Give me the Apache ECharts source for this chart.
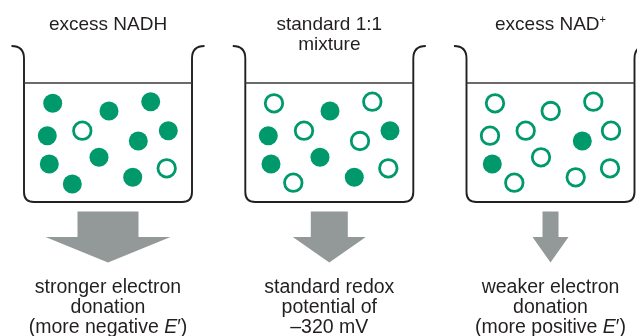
<!DOCTYPE html>
<html><head><meta charset="utf-8">
<script src="https://cdn.jsdelivr.net/npm/echarts@6/dist/echarts.min.js"></script>
<style>html,body{margin:0;padding:0;background:#fff}#c{width:637px;height:336px}</style>
</head><body><div id="c"></div>
<script>
// ---- data ----
const beakerTitles = ['excess NADH', 'standard 1:1\nmixture', 'excess NAD{sup|+}'];
const outcomeLabels = [
  'stronger electron\ndonation\n(more negative {i|E}′)',
  'standard redox\npotential of\n–320 mV',
  'weaker electron\ndonation\n(more positive {i|E}′)'
];
// relative donation strength -> arrow shaft / head widths (axis units)
const donationShaft = [61, 37, 16];
const donationHead = [125, 73, 36];
// NADH molecules (filled) [x, y]
const nadhPoints = [
  [52.7,103.3],[109,111],[150.7,101.7],[47.3,135.7],[138.3,141],[168.3,130.7],[49.3,164],[99,157.3],[72.3,184],[132.7,177.3],
  [330,111],[268.3,135.7],[390,130.7],[271,164],[320,157.3],[354.3,177.3],
  [582.3,141],[492.3,164]
];
// NAD+ molecules (open) [x, y]
const nadPoints = [
  [82.3,130.7],[166.7,168.3],
  [274,103.3],[372.3,101.7],[304,130.7],[360,141],[293.3,182.7],[388.3,168.3],
  [495,103.3],[550.7,111],[593.3,101.7],[490,135.7],[525.7,130.7],[611,130.7],[541,157.3],[514.3,182.7],[575.7,177.3],[610,168.3]
];

// ---- layout ----
const beakerCenters = [108, 329.3, 550.5];
const beakerHalf = 84;
const GREEN = '#00996b', INK = '#231f20', GREY = '#939998';
const FONT = 'Liberation Sans, Arial, sans-serif';

const chart = echarts.init(document.getElementById('c'));
const idx = beakerCenters.map((c, i) => [c, 0, i]);

chart.setOption({
  animation: false,
  grid: {left: 0, right: 0, top: 0, bottom: 0},
  xAxis: {type: 'value', min: 0, max: 637, show: false},
  yAxis: {type: 'value', min: 0, max: 336, inverse: true, show: false},
  series: [
    { // beakers
      type: 'custom', data: idx, z: 1,
      renderItem: function (params, api) {
        const cx = api.value(0);
        const xl = cx - beakerHalf, xr = cx + beakerHalf;
        const P = (x, y) => api.coord([x, y]);
        const a = P(xl - 12.5, 46), b = P(xl, 46), c = P(xl, 58.5), d = P(xl, 192), e = P(xl, 202), f = P(xl + 10, 202);
        const g = P(xr - 10, 202), h = P(xr, 202), k = P(xr, 192), m = P(xr, 58.5), n = P(xr, 46), o = P(xr + 12.5, 46);
        const path = `M${a[0]} ${a[1]} Q${b[0]} ${b[1]} ${c[0]} ${c[1]} L${d[0]} ${d[1]} Q${e[0]} ${e[1]} ${f[0]} ${f[1]} L${g[0]} ${g[1]} Q${h[0]} ${h[1]} ${k[0]} ${k[1]} L${m[0]} ${m[1]} Q${n[0]} ${n[1]} ${o[0]} ${o[1]}`;
        const l1 = P(xl, 83), l2 = P(xr, 83);
        return {type: 'group', children: [
          {type: 'path', shape: {pathData: path}, style: {fill: null, stroke: INK, lineWidth: 1.9}},
          {type: 'line', shape: {x1: l1[0], y1: l1[1], x2: l2[0], y2: l2[1]}, style: {stroke: '#3a3a3a', lineWidth: 1.6}}
        ]};
      }
    },
    { // arrows
      type: 'custom', data: idx, z: 1,
      renderItem: function (params, api) {
        const cx = api.value(0), i = api.value(2);
        const s = donationShaft[i] / 2, hh = donationHead[i] / 2;
        const pts = [[cx - s, 211.5], [cx + s, 211.5], [cx + s, 237], [cx + hh, 237], [cx, 262.5], [cx - hh, 237], [cx - s, 237]].map(p => api.coord(p));
        return {type: 'polygon', shape: {points: pts}, style: {fill: GREY}};
      }
    },
    { // texts
      type: 'custom', data: idx, z: 3,
      renderItem: function (params, api) {
        const cx = api.value(0), i = api.value(2);
        const t = api.coord([cx, 14.5]), b = api.coord([cx, 278]);
        const base = {fill: INK, fontFamily: FONT, align: 'center', verticalAlign: 'top', lineHeight: 20};
        return {type: 'group', children: [
          {type: 'text', style: Object.assign({}, base, {x: t[0], y: t[1], text: beakerTitles[i], fontSize: 19,
            rich: {sup: {fontSize: 11, fontFamily: FONT, fill: INK, verticalAlign: 'top', lineHeight: 20, padding: [0, 0, 12, 0]}}})},
          {type: 'text', style: Object.assign({}, base, {x: b[0], y: b[1], text: outcomeLabels[i], fontSize: 19.5,
            rich: {i: {fontSize: 19.5, fontStyle: 'italic', fontFamily: FONT, fill: INK, lineHeight: 20}}})}
        ]};
      }
    },
    { // NADH filled
      type: 'scatter', data: nadhPoints, symbol: 'circle', symbolSize: 19, z: 2,
      itemStyle: {color: GREEN, opacity: 1}
    },
    { // NAD+ open
      type: 'scatter', data: nadPoints, symbol: 'circle', symbolSize: 17.5, z: 2,
      itemStyle: {color: '#fff', borderColor: GREEN, borderWidth: 2.8, opacity: 1}
    }
  ]
});
</script>
</body></html>
